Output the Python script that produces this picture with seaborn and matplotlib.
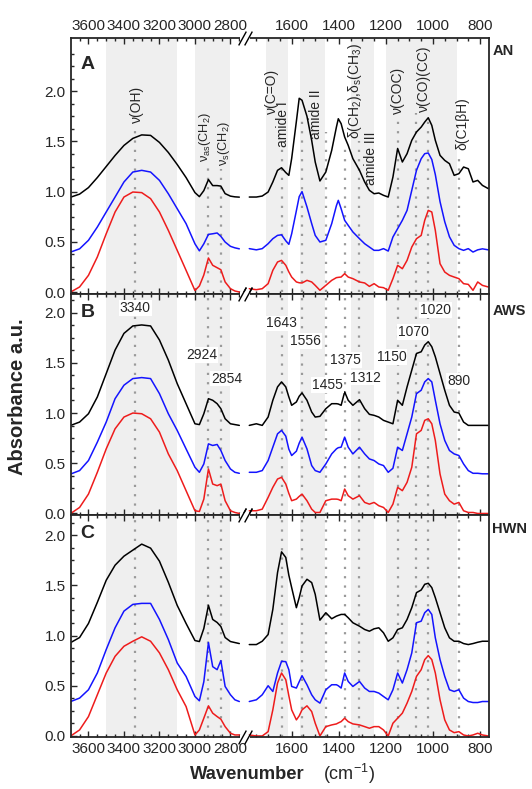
import numpy as np
import matplotlib
matplotlib.use("Agg")
import matplotlib.pyplot as plt
from matplotlib.ticker import FixedLocator, FuncFormatter
import seaborn as sns

# ------------------------------------------------------------
# Spectra (absorbance, offset as plotted)
# ------------------------------------------------------------
wn_left = [3700, 3650, 3600, 3550, 3500, 3450, 3400, 3350, 3300, 3250, 3200, 3150, 3100,
           3050, 3000, 2975, 2950, 2924, 2900, 2875, 2854, 2830, 2800, 2775, 2750]
wn_right = [1780, 1750, 1725, 1700, 1680, 1660, 1643, 1625, 1612, 1600, 1580, 1568, 1556, 1535,
            1515, 1500, 1480, 1455, 1430, 1410, 1402, 1390, 1375, 1360, 1340, 1312, 1290, 1270,
            1250, 1230, 1210, 1190, 1170, 1150, 1130, 1110, 1090, 1070, 1050, 1035, 1020, 1005,
            990, 970, 950, 930, 910, 890, 870, 850, 830, 810, 790, 765]

# panel A (AN)
an_black_l = [0.945, 0.975, 1.04, 1.14, 1.25, 1.36, 1.46, 1.53, 1.565, 1.56, 1.49, 1.39, 1.27,
              1.14, 0.99, 0.95, 1.01, 1.12, 1.06, 1.06, 1.055, 0.98, 0.955, 0.948, 0.945]
an_blue_l = [0.398, 0.43, 0.515, 0.647, 0.797, 0.946, 1.096, 1.195, 1.212, 1.195, 1.112, 0.979,
             0.83, 0.681, 0.48, 0.41, 0.48, 0.574, 0.58, 0.588, 0.554, 0.498, 0.455, 0.44, 0.43]
an_red_l = [0.0, 0.05, 0.166, 0.349, 0.58, 0.797, 0.946, 0.996, 0.99, 0.93, 0.797, 0.614, 0.415,
            0.216, 0.015, 0.06, 0.17, 0.339, 0.266, 0.242, 0.222, 0.1, 0.033, 0.01, 0.0]
an_black_r = [0.946, 0.946, 0.956, 0.996, 1.096, 1.212, 1.238, 1.19, 1.162, 1.33, 1.70, 1.93,
              1.91, 1.75, 1.51, 1.295, 1.106, 1.195, 1.411, 1.643, 1.726, 1.677, 1.544, 1.461,
              1.328, 1.212, 1.096, 1.013, 0.979, 0.986, 0.963, 0.946, 1.145, 1.43, 1.295, 1.378,
              1.511, 1.594, 1.643, 1.693, 1.736, 1.66, 1.511, 1.361, 1.311, 1.278, 1.162, 1.179,
              1.245, 1.228, 1.096, 1.112, 1.062, 1.03]
an_blue_r = [0.432, 0.42, 0.432, 0.481, 0.531, 0.564, 0.57, 0.51, 0.475, 0.58, 0.81, 0.95, 1.0,
             0.847, 0.681, 0.564, 0.498, 0.515, 0.681, 0.86, 0.913, 0.83, 0.714, 0.664, 0.598,
             0.531, 0.481, 0.448, 0.415, 0.415, 0.432, 0.408, 0.548, 0.631, 0.714, 0.813, 1.013,
             1.212, 1.328, 1.378, 1.385, 1.32, 1.17, 0.90, 0.70, 0.55, 0.465, 0.432, 0.415,
             0.432, 0.398, 0.42, 0.43, 0.42]
an_red_r = [0.033, 0.023, 0.033, 0.083, 0.216, 0.299, 0.315, 0.266, 0.2, 0.149, 0.1, 0.092, 0.09,
            0.116, 0.1, 0.066, 0.017, 0.066, 0.116, 0.143, 0.146, 0.149, 0.183, 0.149, 0.133,
            0.1, 0.09, 0.056, 0.083, 0.05, 0.043, 0.017, 0.133, 0.266, 0.232, 0.315, 0.448,
            0.531, 0.564, 0.714, 0.813, 0.797, 0.614, 0.282, 0.199, 0.166, 0.149, 0.133, 0.083,
            0.076, 0.017, 0.1, 0.066, 0.05]

# panel B (AWS)
aws_black_l = [0.877, 0.91, 0.993, 1.16, 1.393, 1.627, 1.793, 1.867, 1.877, 1.867, 1.727, 1.527,
               1.293, 1.093, 0.893, 0.885, 0.993, 1.143, 1.127, 1.093, 1.043, 0.943, 0.893,
               0.885, 0.877]
aws_blue_l = [0.393, 0.427, 0.527, 0.71, 0.91, 1.143, 1.277, 1.343, 1.353, 1.343, 1.193, 0.993,
              0.827, 0.643, 0.46, 0.41, 0.493, 0.693, 0.677, 0.687, 0.627, 0.527, 0.443, 0.41, 0.40]
aws_red_l = [0.0, 0.06, 0.193, 0.41, 0.643, 0.843, 0.96, 1.0, 0.993, 0.943, 0.81, 0.593, 0.427,
             0.227, 0.027, 0.02, 0.143, 0.443, 0.293, 0.277, 0.293, 0.127, 0.027, 0.01, 0.0]
aws_black_r = [0.877, 0.893, 0.877, 0.96, 1.127, 1.26, 1.31, 1.26, 1.16, 1.077, 1.11, 1.167, 1.2,
               1.127, 1.01, 0.96, 0.967, 1.043, 1.093, 1.093, 1.09, 1.077, 1.21, 1.127, 1.077,
               1.133, 1.043, 0.987, 0.977, 0.96, 0.927, 0.91, 0.893, 1.127, 1.077, 1.26, 1.427,
               1.593, 1.61, 1.677, 1.71, 1.66, 1.56, 1.393, 1.227, 1.077, 1.01, 1.0, 0.91, 0.877,
               0.877, 0.877, 0.877, 0.877]
aws_blue_r = [0.41, 0.41, 0.427, 0.527, 0.66, 0.793, 0.827, 0.77, 0.64, 0.577, 0.62, 0.7, 0.76,
              0.643, 0.477, 0.427, 0.41, 0.493, 0.593, 0.643, 0.655, 0.66, 0.76, 0.66, 0.593,
              0.66, 0.593, 0.543, 0.527, 0.493, 0.477, 0.41, 0.45, 0.66, 0.627, 0.793, 0.96,
              1.193, 1.227, 1.31, 1.343, 1.31, 1.127, 0.893, 0.727, 0.627, 0.593, 0.577, 0.493,
              0.427, 0.4, 0.4, 0.395, 0.395]
aws_red_r = [0.027, 0.027, 0.043, 0.16, 0.26, 0.343, 0.36, 0.293, 0.2, 0.127, 0.143, 0.17, 0.193,
             0.127, 0.043, 0.01, 0.01, 0.127, 0.143, 0.143, 0.14, 0.127, 0.243, 0.177, 0.143,
             0.177, 0.11, 0.093, 0.11, 0.077, 0.06, 0.01, 0.093, 0.26, 0.227, 0.31, 0.46, 0.793,
             0.827, 0.927, 0.943, 0.893, 0.727, 0.393, 0.193, 0.127, 0.093, 0.11, 0.027, 0.01,
             0.01, 0.0, 0.0, 0.0]

# panel C (HWN)
hwn_black_l = [0.93, 0.98, 1.12, 1.33, 1.55, 1.70, 1.79, 1.85, 1.91, 1.87, 1.74, 1.53, 1.30,
               1.12, 0.95, 0.94, 1.07, 1.30, 1.16, 1.13, 1.09, 0.98, 0.94, 0.93, 0.92]
hwn_blue_l = [0.343, 0.377, 0.46, 0.627, 0.86, 1.077, 1.243, 1.31, 1.32, 1.32, 1.16, 0.96, 0.727,
              0.593, 0.393, 0.35, 0.54, 0.93, 0.69, 0.66, 0.75, 0.493, 0.41, 0.36, 0.343]
hwn_red_l = [0.0, 0.06, 0.193, 0.41, 0.627, 0.793, 0.893, 0.943, 0.987, 0.943, 0.827, 0.66, 0.46,
             0.293, 0.01, 0.06, 0.177, 0.3, 0.227, 0.193, 0.167, 0.093, 0.027, 0.01, 0.01]
hwn_black_r = [0.91, 0.91, 0.943, 1.01, 1.26, 1.627, 1.833, 1.777, 1.60, 1.477, 1.277, 1.377,
               1.493, 1.56, 1.527, 1.41, 1.153, 1.227, 1.167, 1.193, 1.2, 1.21, 1.21, 1.177,
               1.127, 1.093, 1.06, 1.043, 1.067, 1.077, 1.027, 0.943, 0.977, 1.06, 1.077, 1.16,
               1.277, 1.427, 1.453, 1.51, 1.52, 1.477, 1.377, 1.227, 1.077, 0.977, 0.943, 0.943,
               0.92, 0.91, 0.92, 0.933, 0.943, 0.943]
hwn_blue_r = [0.343, 0.36, 0.41, 0.5, 0.443, 0.627, 0.743, 0.74, 0.66, 0.493, 0.477, 0.54, 0.6,
              0.51, 0.41, 0.36, 0.327, 0.46, 0.51, 0.51, 0.5, 0.477, 0.627, 0.543, 0.493, 0.543,
              0.477, 0.443, 0.443, 0.427, 0.393, 0.36, 0.46, 0.627, 0.527, 0.66, 0.827, 1.127,
              1.143, 1.227, 1.26, 1.21, 0.977, 0.76, 0.593, 0.46, 0.443, 0.46, 0.377, 0.343,
              0.333, 0.333, 0.343, 0.343]
hwn_red_r = [0.01, 0.0, 0.0, 0.043, 0.26, 0.527, 0.627, 0.56, 0.40, 0.26, 0.16, 0.2, 0.26, 0.3,
             0.243, 0.127, 0.0, 0.093, 0.11, 0.12, 0.13, 0.143, 0.177, 0.143, 0.12, 0.11, 0.093,
             0.077, 0.093, 0.093, 0.06, 0.0, 0.127, 0.177, 0.227, 0.327, 0.443, 0.593, 0.66,
             0.76, 0.8, 0.76, 0.627, 0.36, 0.16, 0.06, 0.033, 0.043, 0.01, 0.0, 0.01, 0.027,
             0.01, 0.0]

# band assignments
peak_wn = [3340, 2924, 2854, 1643, 1556, 1455, 1375, 1312, 1150, 1070, 1020, 890]
an_line_top = [1.64, 1.27, 1.23, 1.43, 1.75, 1.59, 1.48, 1.50, 1.74, 1.78, 1.76, 1.38]
shade_bands = [(3500, 3100), (3000, 2800), (1710, 1615), (1565, 1460), (1350, 1250), (1200, 900)]

an_label_txt = ['ν(OH)', 'ν$_{as}$(CH$_2$)', 'ν$_s$(CH$_2$)', 'ν(C=O)', 'amide I', 'amide II',
                'δ(CH$_2$),δ$_s$(CH$_3$)', 'amide III', 'ν(COC)', 'ν(CO)(CC)', 'δ(C1βH)']
an_label_x = [3325, 2944, 2838, 1684, 1636, 1498, 1329, 1264, 1147, 1037, 875]
an_label_y = [1.68, 1.295, 1.26, 1.776, 1.444, 1.527, 1.527, 1.062, 1.776, 1.79, 1.41]
an_label_size = [10, 9.2, 9.2, 10, 10, 10, 10, 10, 10, 10, 10]

aws_label_txt = ['3340', '2924', '2854', '1643', '1556', '1455', '1375', '1312', '1150',
                 '1070', '1020', '890']
aws_label_x = [3336, 2961, 2822, 1643, 1540, 1448, 1372, 1288, 1175, 1083, 989, 890]
aws_label_y = [2.043, 1.577, 1.343, 1.893, 1.72, 1.277, 1.527, 1.353, 1.56, 1.81, 2.027, 1.32]

major_x = [3600, 3400, 3200, 3000, 2800, 1600, 1400, 1200, 1000, 800]

# ------------------------------------------------------------
sns.set_style("ticks")
plt.rcParams['font.family'] = ['Liberation Sans', 'DejaVu Sans']
plt.rcParams['mathtext.default'] = 'regular'

LINE_COLORS = ['black', '#1414ff', '#ee1c1c']
SHADE = '#efefef'
DOTS = '#9a9a9a'
FRAME_PX = 418.3


# broken x axis: wavenumber -> pixel distance from the left frame
def px_of(w):
    w = np.asarray(w, dtype=float)
    return np.where(w <= 1785, 177.4 + (1785 - w) * 0.2355,
                    np.where(w >= 2740, (3700 - w) * 0.1775,
                             170.4 + (2740 - w) * (7.0 / 955)))


def fwd(w):
    return -px_of(w)


def inv(v):
    u = -np.asarray(v, dtype=float)
    return np.where(u <= 170.4, 3700 - u / 0.1775,
                    np.where(u >= 177.4, 1785 - (u - 177.4) / 0.2355,
                             2740 - (u - 170.4) * 955 / 7.0))


fig = plt.figure(figsize=(5.32, 7.89), dpi=100)

panels = [
    dict(rect=[0.1329, 0.628, 0.7863, 0.3238], ytop=2.53, letter='A', tag='AN', tag_y=0.949,
         letter_y=0.897,
         curves=[(an_black_l, an_black_r), (an_blue_l, an_blue_r), (an_red_l, an_red_r)]),
    dict(rect=[0.1329, 0.3473, 0.7863, 0.2807], ytop=2.19, letter='B', tag='AWS', tag_y=0.923,
         letter_y=0.915,
         curves=[(aws_black_l, aws_black_r), (aws_blue_l, aws_blue_r), (aws_red_l, aws_red_r)]),
    dict(rect=[0.1329, 0.0653, 0.7863, 0.282], ytop=2.20, letter='C', tag='HWN', tag_y=0.936,
         letter_y=0.919,
         curves=[(hwn_black_l, hwn_black_r), (hwn_blue_l, hwn_blue_r), (hwn_red_l, hwn_red_r)]),
]

bc = float(px_of(2262)) / FRAME_PX  # break position in axes fraction

for i, p in enumerate(panels):
    ax = fig.add_axes(p['rect'])

    for color, (yl, yr) in zip(LINE_COLORS, p['curves']):
        sns.lineplot(x=wn_left, y=yl, ax=ax, color=color, lw=1.1, sort=False, estimator=None)
        sns.lineplot(x=wn_right, y=yr, ax=ax, color=color, lw=1.1, sort=False, estimator=None)

    ax.set_xscale('function', functions=(fwd, inv))
    ax.set_xlim(3700, 762)
    ax.set_ylim(-0.015, p['ytop'])

    for a, b in shade_bands:
        ax.axvspan(b, a, color=SHADE, lw=0, zorder=0)

    if i == 0:
        ax.vlines(peak_wn, 0, an_line_top, colors=DOTS, linestyles=(0, (1.0, 3.2)), lw=1.6,
                  zorder=1)
        for t, x, y, fs in zip(an_label_txt, an_label_x, an_label_y, an_label_size):
            ax.text(x, y, t, rotation=90, ha='center', va='bottom', fontsize=fs)
    else:
        for x in peak_wn:
            ax.axvline(x, color=DOTS, ls=(0, (1.0, 3.2)), lw=1.6, zorder=1)
    if i == 1:
        for t, x, y in zip(aws_label_txt, aws_label_x, aws_label_y):
            ax.text(x, y, t, ha='center', va='center', fontsize=10,
                    bbox=dict(facecolor='white', edgecolor='none', pad=0.6))

    # ticks
    ax.xaxis.set_major_locator(FixedLocator(major_x))
    minors = [w for w in list(range(3650, 2749, -50)) + list(range(1750, 799, -50))
              if w not in major_x]
    ax.xaxis.set_minor_locator(FixedLocator(minors))
    ax.xaxis.set_major_formatter(FuncFormatter(lambda v, pos: f'{v:.0f}'))
    ax.yaxis.set_major_locator(FixedLocator([0, 0.5, 1.0, 1.5, 2.0]))
    ax.yaxis.set_minor_locator(FixedLocator([v for v in np.arange(0.125, 2.55, 0.125)
                                             if abs(v / 0.5 - round(v / 0.5)) > 1e-6]))
    ax.yaxis.set_major_formatter(FuncFormatter(lambda v, pos: f'{v:.1f}'))
    ax.tick_params(which='both', direction='in', top=True, bottom=True, left=True, right=False,
                   width=1.0, labelsize=11, labeltop=(i == 0), labelbottom=(i == 2))
    ax.tick_params(which='major', length=4.5)
    ax.tick_params(which='minor', length=2.5)
    ax.set_xlabel('')
    ax.set_ylabel('')
    for s in ax.spines.values():
        s.set_linewidth(1.3)
        s.set_visible(True)

    ax.text(0.024, p['letter_y'], p['letter'], transform=ax.transAxes, fontsize=14,
            fontweight='bold', ha='left', va='center')
    ax.text(1.008, p['tag_y'], p['tag'], transform=ax.transAxes, fontsize=10.5,
            fontweight='bold', ha='left', va='center')

    # break marks on the top and bottom frame
    for yy in (0, 1):
        ax.plot([bc - 0.012, bc + 0.012], [yy, yy], color='white', lw=3, transform=ax.transAxes,
                clip_on=False, zorder=6, solid_capstyle='butt')
        ax.plot([bc - 0.007, bc + 0.007], [yy, yy], transform=ax.transAxes, ls='none',
                marker=[(-0.55, -1), (0.55, 1)], markersize=10, mec='black', mew=1.0,
                clip_on=False, zorder=7)

fig.text(0.032, 0.497, 'Absorbance a.u.', rotation=90, ha='center', va='center',
         fontsize=14.5, fontweight='bold')
fig.text(0.573, 0.019, 'Wavenumber', ha='right', va='center', fontsize=13.2, fontweight='bold')
fig.text(0.607, 0.019, '(cm$^{-1}$)', ha='left', va='center', fontsize=13)

fig.savefig('out.png', dpi=100)
